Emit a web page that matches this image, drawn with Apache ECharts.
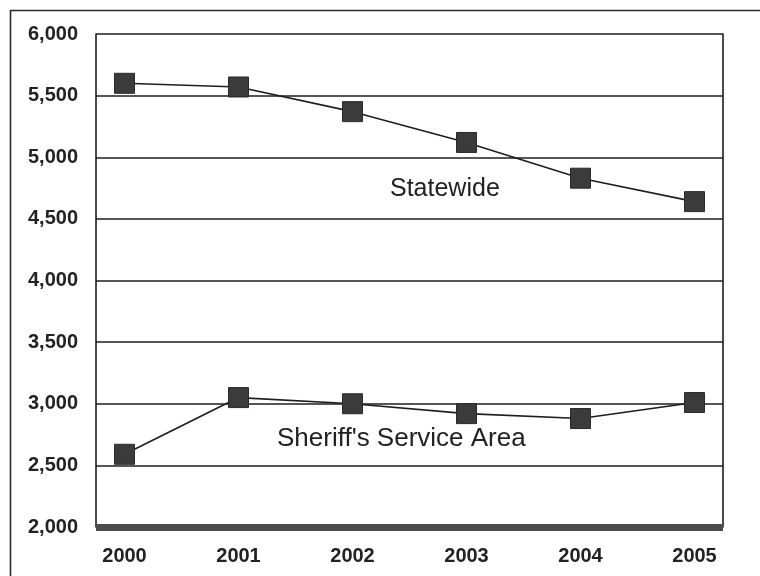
<!DOCTYPE html>
<html>
<head>
<meta charset="utf-8">
<script src="https://cdn.jsdelivr.net/npm/echarts@6/dist/echarts.min.js"></script>
<style>
  html, body { margin: 0; padding: 0; background: #fff; }
  #chart { width: 760px; height: 576px; }
</style>
</head>
<body>
<div id="chart"></div>
<script>
// Years shown on the horizontal axis
const years = [2000, 2001, 2002, 2003, 2004, 2005];
// Statewide totals by year
const statewide = [5600, 5570, 5370, 5120, 4830, 4640];
// Sheriff's service area totals by year
const sheriffArea = [2590, 3050, 3000, 2920, 2880, 3010];
// Vertical axis ticks
const yTicks = [2000, 2500, 3000, 3500, 4000, 4500, 5000, 5500, 6000];
const seriesNames = ['Statewide', "Sheriff's Service Area"];

const chart = echarts.init(document.getElementById('chart'), null, { renderer: 'canvas' });

const ink = '#1e1e1e';
const tickFont = { fontFamily: 'Liberation Sans, Arial, sans-serif', fontSize: 20, fontWeight: 'bold', color: '#222' };

function pairs(values) {
  return years.map((y, i) => [y, values[i]]);
}

function lineSeries(name, values) {
  return {
    name: name,
    type: 'line',
    data: pairs(values),
    symbol: 'rect',
    symbolSize: 20,
    itemStyle: { color: '#3b3b3b', borderColor: '#2a2a2a', borderWidth: 1 },
    lineStyle: { color: ink, width: 1.6 },
    emphasis: { disabled: true },
    z: 5
  };
}

chart.setOption({
  animation: false,
  backgroundColor: '#fff',
  grid: { left: 96, right: 37, top: 34, bottom: 49 },
  xAxis: {
    type: 'value',
    min: 1999.75,
    max: 2005.25,
    axisLine: { show: true, onZero: false, lineStyle: { color: '#4c4c4c', width: 7, cap: 'butt' } },
    axisTick: { show: false },
    splitLine: { show: false },
    axisLabel: {
      customValues: years,
      margin: 19,
      formatter: v => String(v),
      ...tickFont
    }
  },
  yAxis: [
    {
      type: 'value',
      min: yTicks[0],
      max: yTicks[yTicks.length - 1],
      interval: 500,
      axisLine: { show: true, lineStyle: { color: ink, width: 1.6 } },
      axisTick: { show: false },
      splitLine: { show: true, lineStyle: { color: ink, width: 1.6 } },
      axisLabel: {
        margin: 18,
        formatter: v => v.toLocaleString('en-US'),
        ...tickFont
      }
    },
    {
      type: 'value',
      position: 'right',
      min: yTicks[0],
      max: yTicks[yTicks.length - 1],
      interval: 500,
      axisLine: { show: true, lineStyle: { color: ink, width: 1.6 } },
      axisTick: { show: false },
      axisLabel: { show: false },
      splitLine: { show: false }
    }
  ],
  series: [
    lineSeries(seriesNames[0], statewide),
    lineSeries(seriesNames[1], sheriffArea)
  ],
  graphic: [
    {
      type: 'rect',
      silent: true,
      shape: { x: 10.5, y: 10.5, width: 900, height: 700 },
      style: { fill: 'none', stroke: '#2b2b2b', lineWidth: 1.6 }
    },
    {
      type: 'text',
      silent: true,
      x: 390, y: 177,
      style: { text: seriesNames[0], font: '25px "Liberation Sans", Arial, sans-serif', fill: '#222', verticalAlign: 'top' },
      z: 10
    },
    {
      type: 'text',
      silent: true,
      x: 277, y: 426,
      style: { text: seriesNames[1], font: '26px "Liberation Sans", Arial, sans-serif', fill: '#222', verticalAlign: 'top' },
      z: 10
    }
  ]
});
</script>
</body>
</html>
